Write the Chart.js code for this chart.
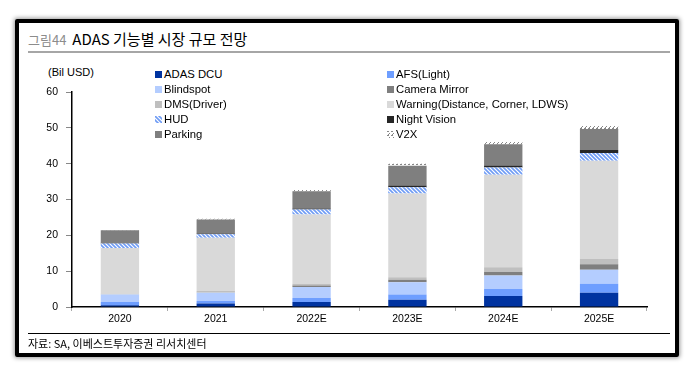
<!DOCTYPE html>
<html>
<head>
<meta charset="utf-8">
<script src="https://cdn.jsdelivr.net/npm/chart.js@4.4.1/dist/chart.umd.min.js"></script>
<style>
    html, body { margin: 0; padding: 0; background: #fff; }
    body { width: 692px; height: 376px; position: relative; overflow: hidden;
           font-family: "Liberation Sans", Arial, "Noto Sans CJK KR", sans-serif; }
    #frame { position: absolute; left: 15px; top: 19px; width: 656px; height: 330px;
             border: 4px solid #000; border-radius: 2px; box-shadow: 0 0 4px 1px #999; }
    #title { position: absolute; left: 28px; top: 30px; white-space: nowrap;
             font-family: "Noto Sans CJK KR", sans-serif; font-size: 15px; color: #000; line-height: 18px; }
    #title .num { color: #8c8c8c; font-size: 13px; margin-right: 6px; }
    #rule { position: absolute; left: 28px; top: 51px; width: 642px; height: 2px; background: #a6a6a6; }
    #unit { position: absolute; left: 48px; top: 66px; font-size: 11px; color: #000; }
    #foot-rule { position: absolute; left: 28px; top: 333px; width: 642px; height: 1px; background: #000; }
    #foot { position: absolute; left: 28px; top: 335px; font-family: "Noto Sans CJK KR", sans-serif;
            font-size: 11px; color: #000; white-space: nowrap; }
    #legend { position: absolute; left: 0; top: 0; }
    .lg { position: absolute; font-size: 11.3px; color: #000; white-space: nowrap; line-height: 13px; }
    .lg canvas { width: 7px; height: 7px; margin-right: 2px; vertical-align: 0px; }
    #chart { position: absolute; left: 0; top: 0; }
</style>
</head>
<body>
<div id="frame"></div>
<div id="title"><span class="num">그림44</span>ADAS 기능별 시장 규모 전망</div>
<div id="rule"></div>
<div id="unit">(Bil USD)</div>
<div id="legend"></div>
<canvas id="chart" width="692" height="376"></canvas>
<div id="foot-rule"></div>
<div id="foot">자료: SA, 이베스트투자증권 리서치센터</div>

<script>
// categories & series (Bil USD)
const years = ['2020', '2021', '2022E', '2023E', '2024E', '2025E'];

const adasDcu      = [0.5, 1.0, 1.4, 2.0, 3.1, 4.0];
const afsLight     = [0.9, 0.7, 1.1, 1.5, 1.9, 2.5];
const blindspot    = [2.1, 2.3, 3.1, 3.4, 3.8, 3.9];
const cameraMirror = [0.0, 0.0, 0.4, 0.7, 1.0, 1.5];
const dmsDriver    = [0.2, 0.5, 0.5, 0.7, 1.3, 1.5];
const warning      = [12.8, 14.8, 19.3, 23.4, 25.8, 27.4];
const hud          = [1.2, 1.0, 1.4, 1.7, 2.0, 2.2];
const nightVision  = [0.2, 0.2, 0.3, 0.5, 0.6, 0.8];
const parking      = [3.5, 3.9, 4.8, 5.5, 5.9, 5.9];
const v2x          = [0.1, 0.2, 0.5, 0.6, 0.7, 0.9];

const yTicks = [0, 10, 20, 30, 40, 50, 60];

// patterns
function stripePattern() {
    const c = document.createElement('canvas');
    c.width = 4; c.height = 4;
    const g = c.getContext('2d');
    g.fillStyle = '#ffffff';
    g.fillRect(0, 0, 4, 4);
    g.strokeStyle = '#6f9cf5';
    g.lineWidth = 1.6;
    g.beginPath();
    g.moveTo(-1, -1); g.lineTo(5, 5);
    g.moveTo(-1, 3); g.lineTo(1, 5);
    g.moveTo(3, -1); g.lineTo(5, 1);
    g.stroke();
    return g.createPattern(c, 'repeat');
}

function dotPattern() {
    const c = document.createElement('canvas');
    c.width = 4; c.height = 4;
    const g = c.getContext('2d');
    g.fillStyle = '#ffffff';
    g.fillRect(0, 0, 4, 4);
    g.fillStyle = '#888888';
    g.fillRect(0, 0, 2, 1);
    g.fillRect(2, 2, 1, 1);
    g.fillRect(1, 3, 1, 1);
    return g.createPattern(c, 'repeat');
}

const hudFill = stripePattern();
const v2xFill = dotPattern();

const series = [
    { label: 'ADAS DCU', data: adasDcu, color: '#0033a0' },
    { label: 'AFS(Light)', data: afsLight, color: '#6e9eff' },
    { label: 'Blindspot', data: blindspot, color: '#b4cdff' },
    { label: 'Camera Mirror', data: cameraMirror, color: '#7f7f7f' },
    { label: 'DMS(Driver)', data: dmsDriver, color: '#bfbfbf' },
    { label: 'Warning(Distance, Corner, LDWS)', data: warning, color: '#d9d9d9' },
    { label: 'HUD', data: hud, color: hudFill },
    { label: 'Night Vision', data: nightVision, color: '#262626' },
    { label: 'Parking', data: parking, color: '#7f7f7f' },
    { label: 'V2X', data: v2x, color: v2xFill }
];

// legend, two columns
const legendEl = document.getElementById('legend');
series.forEach((s, i) => {
    const item = document.createElement('div');
    item.className = 'lg';
    item.style.left = (i % 2 === 0 ? 155 : 387) + 'px';
    item.style.top = (68 + Math.floor(i / 2) * 14.9) + 'px';
    const sw = document.createElement('canvas');
    sw.width = 7; sw.height = 7;
    const g = sw.getContext('2d');
    g.fillStyle = s.color;
    g.fillRect(0, 0, 7, 7);
    item.appendChild(sw);
    item.appendChild(document.createTextNode(s.label));
    legendEl.appendChild(item);
});

new Chart(document.getElementById('chart'), {
    type: 'bar',
    data: {
        labels: years,
        datasets: series.map(s => ({
            label: s.label,
            data: s.data,
            backgroundColor: s.color,
            borderWidth: 0,
            barPercentage: 0.4,
            categoryPercentage: 1
        }))
    },
    options: {
        responsive: false,
        animation: false,
        layout: { padding: { left: 0, right: 45, top: 92, bottom: 0 } },
        plugins: { legend: { display: false }, tooltip: { enabled: false } },
        scales: {
            x: {
                stacked: true,
                border: { color: '#000', width: 1.5 },
                grid: { drawOnChartArea: false, drawTicks: true, tickLength: 4, color: '#aaa', offset: true },
                ticks: { color: '#000', font: { family: 'Liberation Sans', size: 10.5 }, padding: 2 },
                afterFit: (s) => { s.height = 69; }
            },
            y: {
                stacked: true,
                min: 0,
                max: 60,
                afterBuildTicks: (s) => { s.ticks = yTicks.map(v => ({ value: v })); },
                border: { color: '#000', width: 1.5 },
                grid: { drawOnChartArea: false, drawTicks: true, tickLength: 6, color: '#888' },
                ticks: { color: '#000', font: { family: 'Liberation Sans', size: 10.5 }, padding: 8 },
                afterFit: (s) => { s.width = 72; }
            }
        }
    }
});
</script>
</body>
</html>
